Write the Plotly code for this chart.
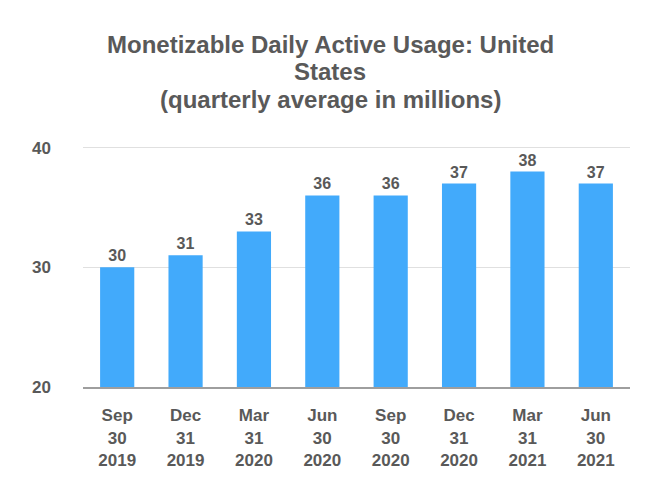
import plotly.graph_objects as go

categories = ["Sep<br>30<br>2019", "Dec<br>31<br>2019", "Mar<br>31<br>2020", "Jun<br>30<br>2020",
              "Sep<br>30<br>2020", "Dec<br>31<br>2020", "Mar<br>31<br>2021", "Jun<br>30<br>2021"]
values = [30, 31, 33, 36, 36, 37, 38, 37]
y_ticks = [20, 30, 40]
title_lines = ["Monetizable Daily Active Usage: United", "States", "(quarterly average in millions)"]

gray = "#595959"
font = "Liberation Sans, Arial, sans-serif"

fig = go.Figure(go.Bar(
    x=categories, y=values,
    marker=dict(color="#42AAFB", line=dict(width=0)),
    width=0.5,
    text=[str(v) for v in values],
    textposition="outside",
    textfont=dict(family=font, size=16, color=gray),
    texttemplate="<b>%{text}</b>",
    cliponaxis=False,
))

title_y = [1.410, 1.298, 1.183]
for line, ty in zip(title_lines, title_y):
    fig.add_annotation(
        text=f"<b>{line}</b>", xref="paper", yref="paper",
        x=0.4516, y=ty, xanchor="center", yanchor="middle", showarrow=False,
        font=dict(family=font, size=24, color=gray),
    )

fig.update_layout(
    width=660, height=500,
    margin=dict(l=75, r=38, t=136, b=121, autoexpand=False),
    paper_bgcolor="white", plot_bgcolor="white",
    showlegend=False,
    font=dict(family=font, color=gray),
)
fig.update_yaxes(
    range=[20, 40.3], tickvals=y_ticks,
    ticktext=[f"<b>{t}</b>" for t in y_ticks],
    tickfont=dict(size=17, color=gray),
    showgrid=True, gridcolor="#e0e0e0", gridwidth=1,
    zeroline=False, showline=False, automargin=False,
    ticklabelstandoff=31,
)
fig.update_xaxes(
    tickvals=categories,
    ticktext=[f"<b>{c}</b>" for c in categories],
    tickfont=dict(size=17, color=gray),
    showline=True, linecolor="#9e9e9e", linewidth=2,
    showgrid=False, ticks="", ticklabelstandoff=12, automargin=False,
)
fig.write_html("out.html")
